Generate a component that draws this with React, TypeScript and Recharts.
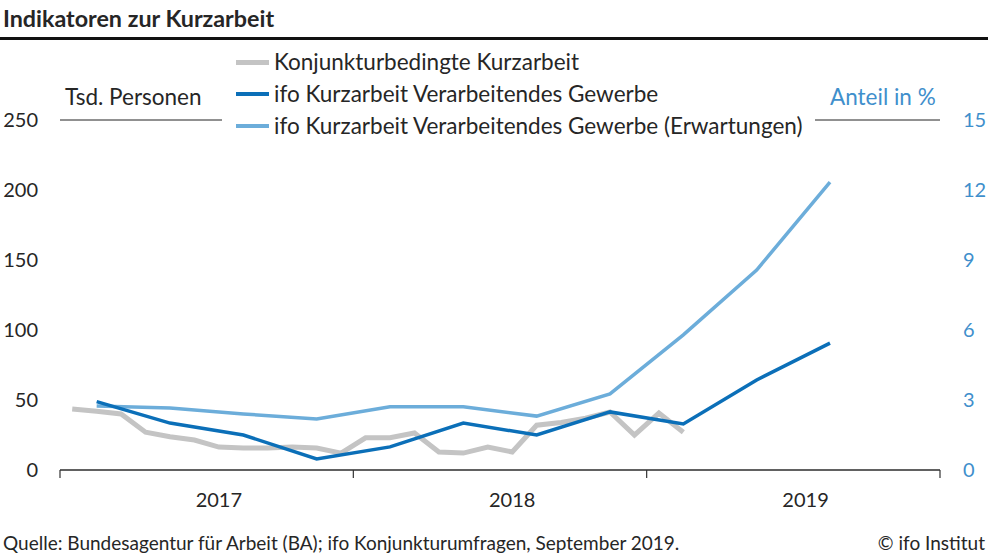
import { CartesianGrid, Line, LineChart, XAxis, YAxis } from "recharts";

const YEARS = [2017, 2018, 2019];

// Tsd. Personen, monthly Jan 2017 - Feb 2019
const BA_KURZARBEIT = [
  43.6, 42, 40, 27, 23.8, 21.4, 16.4, 15.7, 15.7, 16.4, 15.7, 12, 23, 23, 26.4,
  12.9, 12.1, 16.4, 12.9, 32, 34, 37, 41.4, 25, 40.7, 27,
];

// Anteil in %, quarterly Q1 2017 - Q3 2019
const IFO_KURZARBEIT = [2.93, 2.01, 1.5, 0.47, 0.99, 2.01, 1.5, 2.49, 1.97, 3.86, 5.44];
const IFO_ERWARTUNGEN = [2.74, 2.66, 2.4, 2.19, 2.71, 2.71, 2.31, 3.26, 5.79, 8.57, 12.34];

const LEFT_TICKS = [0, 50, 100, 150, 200, 250];
const RIGHT_TICKS = [0, 3, 6, 9, 12, 15];

const SERIES = [
  { key: "ba", name: "Konjunkturbedingte Kurzarbeit", color: "#c4c4c4", width: 5 },
  { key: "ifo", name: "ifo Kurzarbeit Verarbeitendes Gewerbe", color: "#0b6fb8", width: 3.5 },
  { key: "erw", name: "ifo Kurzarbeit Verarbeitendes Gewerbe (Erwartungen)", color: "#6cadda", width: 3.5 },
];

const rows = Array.from({ length: YEARS.length * 12 }, (_, i) => {
  const q = (i - 1) / 3;
  const isQuarter = i % 3 === 1;
  return {
    t: i + 0.5,
    ba: BA_KURZARBEIT[i] ?? null,
    ifo: isQuarter ? IFO_KURZARBEIT[q] ?? null : null,
    erw: isQuarter ? IFO_ERWARTUNGEN[q] ?? null : null,
  };
});

const X_TICKS = [0, 6.5, 12, 18.5, 24, 30.5, 36];

const FONT = "Lato, 'Noto Sans', sans-serif";
const TEXT = "#262626";
const BLUE_TEXT = "#3f8fcc";

function YearTick(props: any) {
  const { x, y, payload } = props;
  const v = payload.value;
  if (v % 12 === 0) {
    return <line x1={x} x2={x} y1={y} y2={y + 8} stroke="#333" strokeWidth={1.2} />;
  }
  const year = YEARS[Math.floor(v / 12)];
  return (
    <text x={x} y={y + 37} textAnchor="middle" fill={TEXT} fontSize={20} fontFamily={FONT}>
      {year}
    </text>
  );
}

export default function App() {
  return (
    <div
      style={{
        position: "absolute",
        left: 0,
        top: 0,
        width: 990,
        height: 557,
        background: "#fff",
        fontFamily: FONT,
        color: TEXT,
        overflow: "hidden",
      }}
    >
      <div style={{ position: "absolute", left: 3, top: 5, fontSize: 23.3, fontWeight: 700, lineHeight: "26px" }}>
        Indikatoren zur Kurzarbeit
      </div>
      <div style={{ position: "absolute", left: 0, top: 37, width: 988, height: 3, background: "#111" }} />

      <div style={{ position: "absolute", left: 0, top: 0 }}>
        <LineChart width={990} height={557} data={rows} margin={{ top: 120, right: 0, bottom: 47, left: 0 }}>
          <CartesianGrid vertical={false} stroke="#222" strokeWidth={1} />
          <XAxis
            type="number"
            dataKey="t"
            domain={[0, 36]}
            ticks={X_TICKS}
            interval={0}
            height={40}
            tickLine={false}
            tickSize={0}
            tickMargin={0}
            axisLine={{ stroke: "#333", strokeWidth: 1.2 }}
            tick={(p: any) => <YearTick {...p} />}
          />
          <YAxis
            yAxisId="left"
            domain={[0, 250]}
            ticks={LEFT_TICKS}
            width={60}
            axisLine={false}
            tickLine={false}
            tickMargin={16}
            tick={{ fill: TEXT, fontSize: 20, fontFamily: FONT }}
          />
          <YAxis
            yAxisId="right"
            orientation="right"
            domain={[0, 15]}
            ticks={RIGHT_TICKS}
            width={50}
            axisLine={false}
            tickLine={false}
            tickMargin={17}
            tick={{ fill: BLUE_TEXT, fontSize: 20, fontFamily: FONT, textAnchor: "start" }}
          />
          <Line
            yAxisId="left"
            type="linear"
            dataKey="ba"
            stroke={SERIES[0].color}
            strokeWidth={SERIES[0].width}
            dot={false}
            isAnimationActive={false}
          />
          <Line
            yAxisId="right"
            type="linear"
            dataKey="erw"
            stroke={SERIES[2].color}
            strokeWidth={SERIES[2].width}
            dot={false}
            connectNulls
            isAnimationActive={false}
          />
          <Line
            yAxisId="right"
            type="linear"
            dataKey="ifo"
            stroke={SERIES[1].color}
            strokeWidth={SERIES[1].width}
            dot={false}
            connectNulls
            isAnimationActive={false}
          />
        </LineChart>
      </div>

      <div style={{ position: "absolute", left: 65, top: 84, fontSize: 22.5, lineHeight: "26px" }}>Tsd. Personen</div>
      <div style={{ position: "absolute", left: 830, top: 84, fontSize: 22.5, lineHeight: "26px", color: BLUE_TEXT }}>
        Anteil in %
      </div>

      <div
        style={{
          position: "absolute",
          left: 222,
          top: 47,
          width: 593,
          height: 94,
          background: "#fff",
        }}
      >
        {SERIES.map((s, i) => (
          <div
            key={s.key}
            style={{ position: "absolute", left: 0, top: i * 32, height: 30, display: "flex", alignItems: "center" }}
          >
            <div style={{ width: 33, marginLeft: 14, height: s.width, background: s.color }} />
            <div style={{ marginLeft: 5, fontSize: 22.5, lineHeight: "30px", whiteSpace: "nowrap" }}>{s.name}</div>
          </div>
        ))}
      </div>

      <div style={{ position: "absolute", left: 3, top: 531, fontSize: 19, lineHeight: "24px" }}>
        Quelle: Bundesagentur für Arbeit (BA); ifo Konjunkturumfragen, September 2019.
      </div>
      <div style={{ position: "absolute", right: 5, top: 531, fontSize: 19, lineHeight: "24px" }}>© ifo Institut</div>
    </div>
  );
}
